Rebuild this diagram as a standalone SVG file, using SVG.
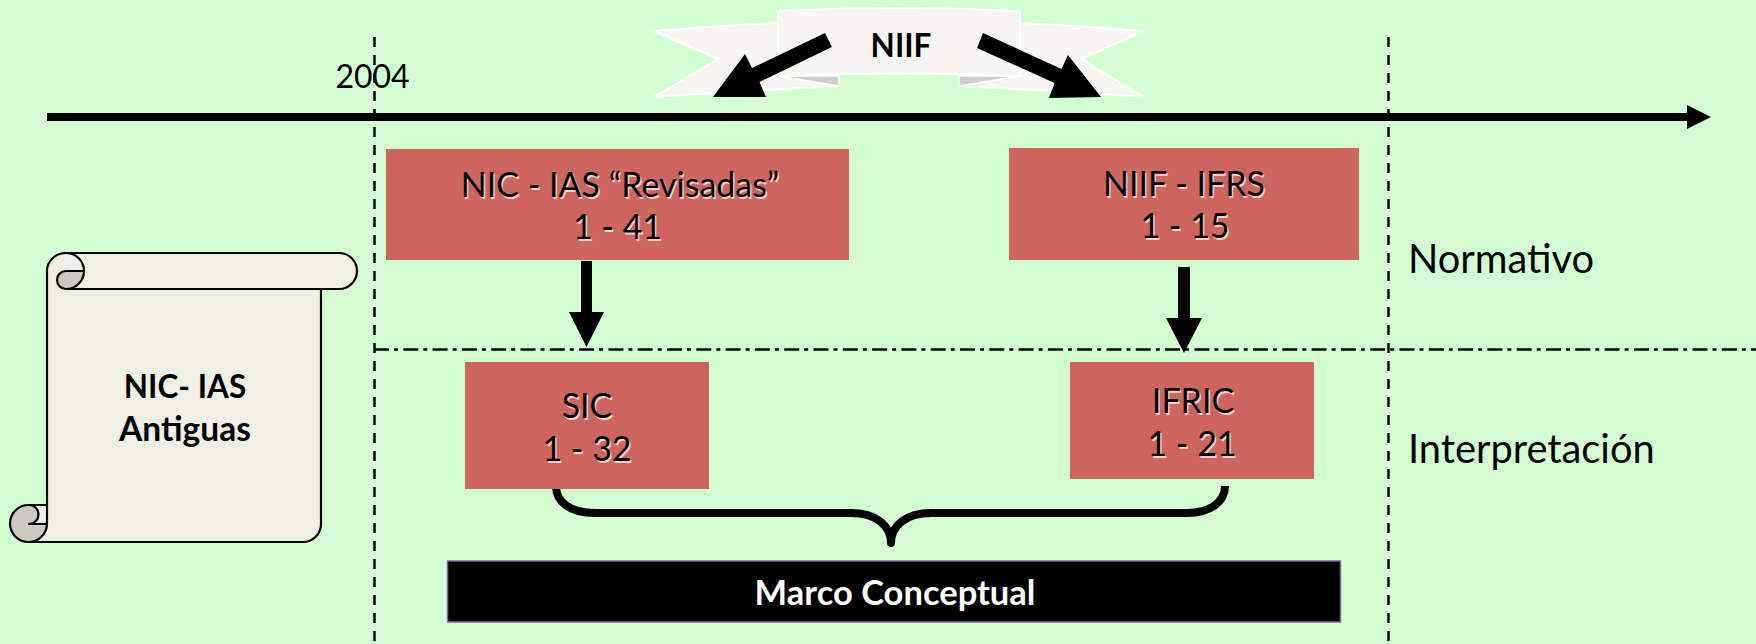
<svg xmlns="http://www.w3.org/2000/svg" width="1756" height="644" viewBox="0 0 1756 644">
<style>
text{font-family:Lato,"Open Sans","Liberation Sans",sans-serif;text-anchor:middle}
.box{fill:#cd665f}
.t{font-size:34px;fill:#000}
.ts{font-size:34px;fill:#fff;opacity:.7}
.b{font-size:31.500px;font-weight:700;fill:#000}
.lab{font-size:39.800px;fill:#000;text-anchor:start}
.sf{fill:#f0efe6}
.sl{fill:none;stroke:#000;stroke-width:2.200;stroke-linejoin:round}
.curl{fill:#cbc9c2;stroke:#000;stroke-width:2.200;stroke-linejoin:round}
.rib{fill:#f6f5f1;stroke:#fff;stroke-width:2}
.fold{fill:#cfcec9;stroke:#fff;stroke-width:1.500}
.dash{fill:none;stroke:#000;stroke-width:2.500;stroke-dasharray:10 8}
.dd{fill:none;stroke:#000;stroke-width:2.500;stroke-dasharray:15 5 4 5.300}
</style>
<rect width="1756" height="644" fill="#d3fed3"/>
<g id="niif-banner">
<path class="rib" d="M778 23Q710 26 654 31L718 59L654 97Q740 91 839 86V76H778Z"/>
<path class="rib" d="M1020 23Q1085 26 1144 31L1081 59L1144 97Q1060 91 959 86V76H1020Z"/>
<path class="fold" d="M778 76L839 86V76Z"/>
<path class="fold" d="M1020 76L959 86V76Z"/>
<path class="rib" d="M778 11Q899 5 1020 11V76Q899 71 778 76Z"/>
<text class="b" x="901" y="57">NIIF</text>
</g>
<g id="connectors">
<path class="dash" d="M374.500 37V644"/>
<path class="dash" d="M1388.500 37V644"/>
<path class="dd" d="M374 349.500H1756"/>
<path d="M47 113H1687V105L1711 117L1687 129V121H47Z"/>
<path d="M825 33L832 47L759.500 82L766 97H713L745 54L752 68Z"/>
<path d="M983 33L977 48L1054.600 83L1049 98L1101 97L1068 55L1061.500 69Z"/>
<path d="M581 261H592V312H604L586.500 347L569 312H581Z"/>
<path d="M1178 267H1190V318H1202L1184 353L1166 318H1178Z"/>
<path d="M556 486C556 502 570 513 595 513H851C875 513 891 525 891 543C891 525 907 513 931 513H1187C1210 513 1225 502 1225 486" fill="none" stroke="#000" stroke-width="8" stroke-linejoin="round"/>
</g>
<g id="label-2004"><text x="372.500" y="88" font-size="32">2004</text></g>
<g id="nic-revisadas">
<rect class="box" x="386" y="149" width="463" height="111"/>
<text class="ts" x="621.500" y="198.500">NIC - IAS “Revisadas”</text><text class="t" x="620" y="197">NIC - IAS “Revisadas”</text>
<text class="ts" x="619" y="240.500">1 - 41</text><text class="t" x="617.500" y="239">1 - 41</text>
</g>
<g id="niif-ifrs">
<rect class="box" x="1009" y="148" width="350" height="112"/>
<text class="ts" x="1185.500" y="197.500">NIIF - IFRS</text><text class="t" x="1184" y="196">NIIF - IFRS</text>
<text class="ts" x="1186.500" y="239.500">1 - 15</text><text class="t" x="1185" y="238">1 - 15</text>
</g>
<g id="sic">
<rect class="box" x="465" y="362" width="244" height="127"/>
<text class="ts" x="588.500" y="419.500">SIC</text><text class="t" x="587" y="418">SIC</text>
<text class="ts" x="588.500" y="462.500">1 - 32</text><text class="t" x="587" y="461">1 - 32</text>
</g>
<g id="ifric">
<rect class="box" x="1070" y="362" width="244" height="117"/>
<text class="ts" x="1194.500" y="414.500">IFRIC</text><text class="t" x="1193" y="413">IFRIC</text>
<text class="ts" x="1193.500" y="457.500">1 - 21</text><text class="t" x="1192" y="456">1 - 21</text>
</g>
<g id="normativo"><text class="lab" x="1408" y="273">Normativo</text></g>
<g id="interpretacion"><text class="lab" x="1408" y="463">Interpretación</text></g>
<g id="nic-ias-antiguas">
<path class="sf" d="M47 271A19 18 0 0 1 66 253H339A18 18 0 0 1 339 289H321V524A18 18 0 0 1 303 542H29V505H47Z"/>
<path class="sl" d="M47 505V271A19 18 0 0 1 66 253H339A18 18 0 0 1 339 289H66"/>
<path class="sl" d="M321 289V524A18 18 0 0 1 303 542H29"/>
<path class="sl" d="M29 505H47V524"/>
<path class="curl" d="M84 271H66A9 9 0 0 0 66 289A18 18 0 0 0 84 271Z"/>
<path class="sl" d="M66 253A18 18 0 0 1 84 271"/>
<path class="curl" d="M29 505A18.500 18.500 0 1 0 47 524H29A9.500 9.500 0 0 0 29 505Z"/>
<text class="b" x="185" y="398">NIC- IAS</text>
<text class="b" x="185" y="441" style="font-size:33.500px">Antiguas</text>
</g>
<g id="marco-conceptual">
<rect x="447.500" y="561" width="893" height="61" fill="#000" stroke="#8064a2" stroke-width="1.500"/>
<text x="895" y="605" font-size="34.500" font-weight="700" fill="#fff">Marco Conceptual</text>
</g>
</svg>
